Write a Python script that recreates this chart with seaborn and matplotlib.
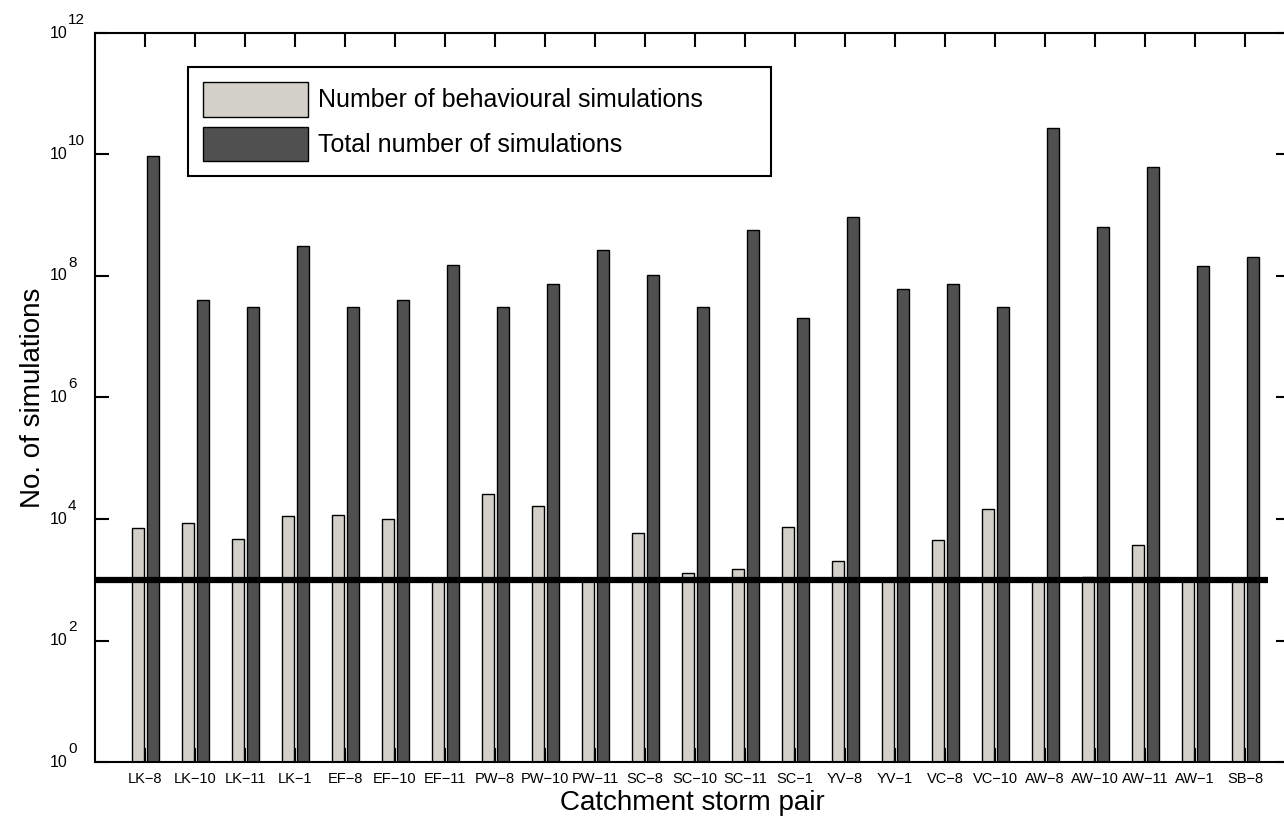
import numpy as np
import pandas as pd
import matplotlib
matplotlib.use("Agg")
import matplotlib.pyplot as plt
import seaborn as sns
from matplotlib.ticker import FixedLocator, NullFormatter, NullLocator

# ---------------- data ----------------
pairs = ["LK−8", "LK−10", "LK−11", "LK−1", "EF−8", "EF−10", "EF−11", "PW−8",
         "PW−10", "PW−11", "SC−8", "SC−10", "SC−11", "SC−1", "YV−8", "YV−1",
         "VC−8", "VC−10", "AW−8", "AW−10", "AW−11", "AW−1", "SB−8"]
behavioural = [7000, 8700, 4700, 11300, 11800, 9900, 1000, 26000,
               16300, 1000, 5800, 1300, 1500, 7500, 2050, 1000,
               4550, 14600, 1000, 1100, 3800, 1050, 1000]
total = [9.4e9, 4.1e7, 3.1e7, 3.1e8, 3.1e7, 4.1e7, 1.53e8, 3.1e7,
         7.3e7, 2.7e8, 1.02e8, 3.1e7, 5.8e8, 2.04e7, 9.25e8, 6.2e7,
         7.3e7, 3.1e7, 2.73e10, 6.45e8, 6.3e9, 1.45e8, 2.08e8]
series_names = ["Number of behavioural simulations", "Total number of simulations"]
threshold = 1000
ytick_exponents = [0, 2, 4, 6, 8, 10, 12]

df = pd.DataFrame({
    "pair": pairs * 2,
    "value": behavioural + total,
    "series": [series_names[0]] * len(pairs) + [series_names[1]] * len(pairs),
})

# ---------------- style ----------------
sns.set_theme(style="white")
plt.rcParams["font.family"] = ["Liberation Sans", "DejaVu Sans"]
plt.rcParams["text.color"] = "black"
plt.rcParams["axes.labelcolor"] = "black"
plt.rcParams["xtick.color"] = "black"
plt.rcParams["ytick.color"] = "black"

fig = plt.figure(figsize=(12.84, 8.22), dpi=100)
W, H = 1284, 822
ax = fig.add_axes([95 / W, 1 - 762 / H, (1290 - 95) / W, (762 - 33) / H])

light = "#d4d0c8"
dark = "#505050"
sns.barplot(data=df, x="pair", y="value", hue="series", hue_order=series_names,
            palette=[light, dark], width=0.6, gap=0.2, edgecolor="black",
            linewidth=1.0, ax=ax, zorder=2)

ax.set_yscale("log")
ax.set_ylim(1, 1e12)
ax.set_xlim(-1, 22.9)

# threshold line
ax.hlines(threshold, -1, len(pairs) - 0.54, color="black", lw=4.5, zorder=3)

# spines / ticks
for s in ax.spines.values():
    s.set_color("black")
    s.set_linewidth(1.5)
    s.set_visible(True)

ax.yaxis.set_major_locator(FixedLocator([10.0 ** e for e in ytick_exponents]))
ax.yaxis.set_minor_locator(NullLocator())
ax.yaxis.set_major_formatter(NullFormatter())
ax.tick_params(axis="y", which="major", direction="in", length=10, width=1.5,
               left=True, right=True, colors="black")
ax.tick_params(axis="x", which="major", direction="in", length=10, width=1.5,
               top=True, bottom=True, colors="black", labelsize=10.5, pad=7)
ax.set_xticks(range(len(pairs)))
ax.set_xticklabels(pairs)

# y tick labels: "10" with raised exponent of similar size
for e in ytick_exponents:
    ax.annotate("10", xy=(0, 10.0 ** e), xycoords=("axes fraction", "data"),
                xytext=(-19.5, 0), textcoords="offset points",
                ha="right", va="center", fontsize=11.5, color="black",
                annotation_clip=False)
    ax.annotate(str(e), xy=(0, 10.0 ** e), xycoords=("axes fraction", "data"),
                xytext=(-19.5, 4.5), textcoords="offset points",
                ha="left", va="bottom", fontsize=11, color="black",
                annotation_clip=False)

ax.set_xlabel("Catchment storm pair", fontsize=20, color="black", labelpad=3)
ax.set_ylabel("No. of simulations", fontsize=20, color="black", labelpad=32)

# legend
handles, labels = ax.get_legend_handles_labels()
leg = ax.legend(handles, labels, loc="upper left",
                bbox_to_anchor=(188 / W, 1 - 175 / H, (771 - 188) / W, (175 - 67) / H),
                bbox_transform=fig.transFigure, mode="expand",
                fontsize=18, frameon=True, fancybox=False, borderaxespad=0,
                handlelength=4.2, handleheight=1.75, handletextpad=0.4,
                labelspacing=0.4, borderpad=0.6, title=None)
leg.get_frame().set_edgecolor("black")
leg.get_frame().set_linewidth(1.5)
leg.get_frame().set_facecolor("white")
leg.get_frame().set_alpha(1)
for h in leg.legend_handles:
    h.set_edgecolor("black")
    h.set_linewidth(1.0)
for t in leg.get_texts():
    t.set_color("black")

fig.savefig("out.png", dpi=100, facecolor="white")
